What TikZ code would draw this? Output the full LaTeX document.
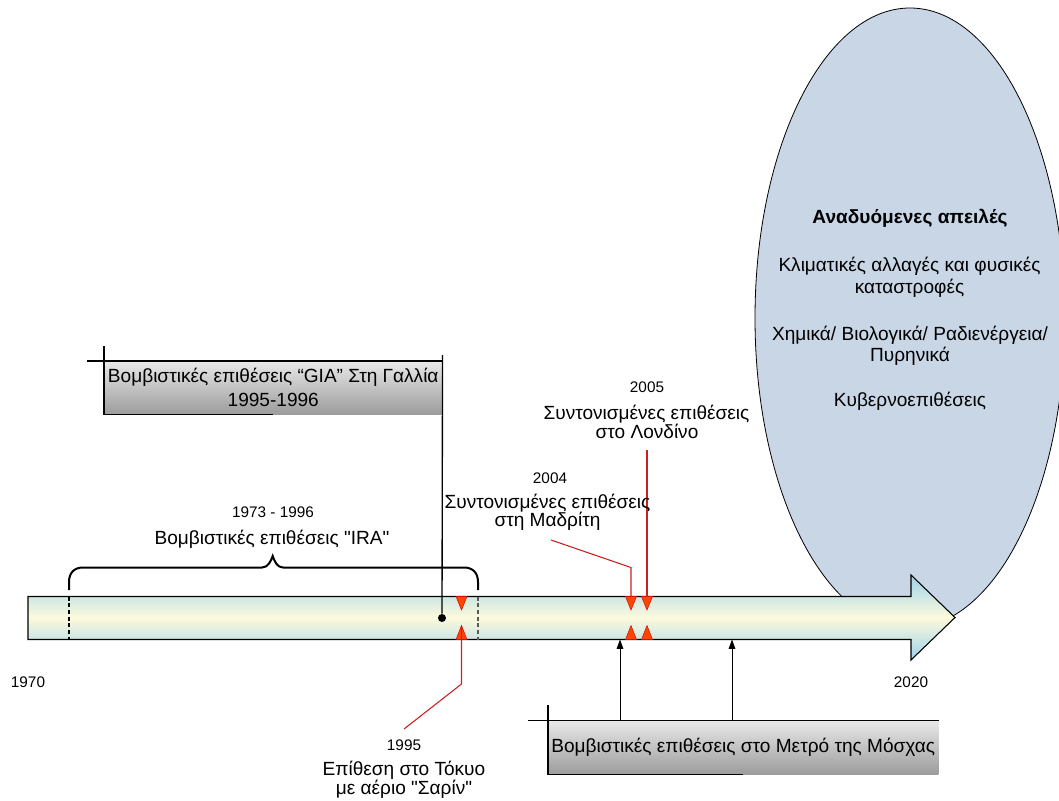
\documentclass[tikz,border=0pt]{standalone}
\usepackage{fontspec}
\setmainfont{Liberation Sans}[Ligatures=TeXOff]
\usetikzlibrary{arrows.meta,calc}

\definecolor{ellfill}{HTML}{C8D6E6}
\definecolor{tlblue}{HTML}{9DD3EC}
\definecolor{tlcream}{HTML}{FDFADC}
\definecolor{evred}{HTML}{FF4500}
\definecolor{evedge}{HTML}{D01010}
\definecolor{leadred}{HTML}{CC2020}
\definecolor{boxtop}{HTML}{E8E8E8}
\definecolor{boxbot}{HTML}{9C9C9C}

\tikzset{
  bigtext/.style={font=\fontsize{14.3}{16}\selectfont, anchor=base, inner sep=0pt},
  smalltext/.style={font=\fontsize{11.5}{13}\selectfont, anchor=base, inner sep=0pt},
  callout/.style={top color=boxtop, bottom color=boxbot, inner sep=0pt, anchor=north west,
    align=center, font=\fontsize{14.3}{18.2}\selectfont},
  frame/.style={black, line width=1pt},
  lead/.style={leadred, line width=0.8pt},
  marker/.style={fill=evred, draw=evedge, line width=0.4pt},
  riser/.style={black, line width=0.6pt, -{Triangle[length=7pt,width=5pt]}},
  span/.style={black, line width=1.5pt},
  dot/.style={circle, fill=black, inner sep=0pt, minimum size=6pt},
}

\begin{document}
\begin{tikzpicture}[x=0.75pt,y=-0.75pt]
\useasboundingbox (0,0) rectangle (1059,800);

% emerging threats
\draw[black, line width=0.6pt, fill=ellfill] (910,318) ellipse [x radius=155, y radius=310];

% timeline arrow 1970-2020
\draw[black, line width=0.8pt, top color=tlblue, bottom color=tlblue, middle color=tlcream]
  (28,596.5) -- (911,596.5) -- (911,575) -- (955,617.5) -- (911,660) -- (911,639.5) -- (28,639.5) -- cycle;

% IRA period limits and brace
\draw[black, line width=0.8pt, dash pattern=on 3pt off 2pt] (69,596.5) -- (69,639.5);
\draw[black!65, line width=1.3pt, dash pattern=on 3pt off 2pt] (478,596.5) -- (478,639.5);
\draw[span] (69,590) -- (69,582) .. controls (69,573) and (74,567.5) .. (83,567.5)
  -- (262,567.5) .. controls (268,567.5) and (271,561) .. (272.7,556)
  .. controls (274.4,561) and (277,567.5) .. (283,567.5)
  -- (464,567.5) .. controls (473,567.5) and (478,573) .. (478,582) -- (478,590);

% event markers
\coordinate (tokyo) at (461.5,625.5);
\coordinate (madrid) at (631,596.5);
\coordinate (london) at (647,596.5);
\foreach \cx in {461.5,631,647} {
  \path[marker] (\cx-5.5,596.5) -- (\cx+5.5,596.5) -- (\cx,610) -- cycle;
  \path[marker] (\cx-5.5,639.5) -- (\cx+5.5,639.5) -- (\cx,625.5) -- cycle;
}

% leaders to the event labels
\coordinate (tokyo-end) at (404,729);
\coordinate (madrid-end) at (551,540);
\coordinate (london-end) at (647,450);
\draw[lead] (tokyo) -- (461.5,684) -- (tokyo-end);
\draw[lead] (madrid) -- (631,567.5) -- (madrid-end);
\draw[lead] (london) -- (london-end);

% GIA callout
\node[callout, minimum width=338*0.75pt, minimum height=53*0.75pt] (gia) at (104,361)
  {Βομβιστικές επιθέσεις “GIA” Στη Γαλλία\\1995-1996};
\draw[frame] ($(gia.north west)+(-17,0)$) -- (gia.north east);
\draw[frame] ($(gia.north west)+(0,-15)$) -- (gia.south west) -- ($(gia.south west)!0.5!(gia.south east)$);
\node[dot] (giadot) at (442,618) {};
\draw[frame] ($(gia.north east)+(0,-6)$) -- (giadot);

% Moscow callout
\node[callout, minimum width=390*0.75pt, minimum height=53.3*0.75pt] (moscow) at (548,720.7)
  {Βομβιστικές επιθέσεις στο Μετρό της Μόσχας};
\draw[frame] ($(moscow.north west)+(-20,0)$) -- (moscow.north east);
\draw[frame] ($(moscow.north west)+(0,-16)$) -- (moscow.south west) -- ($(moscow.south west)!0.5!(moscow.south east)$);
\coordinate (moscow-a) at (620,639.5);
\coordinate (moscow-b) at (732,639.5);
\draw[riser] (moscow.north -| moscow-a) -- (moscow-a);
\draw[riser] (moscow.north -| moscow-b) -- (moscow-b);

% axis years
\node[smalltext] (y1970) at (28,687.3) {1970};
\node[smalltext] (y2020) at (911,687.7) {2020};

% event labels
\node[smalltext] (tok-year) at (404,750.7) {1995};
\node[bigtext] (tok-l1) at (404,775) {Επίθεση στο Τόκυο};
\node[bigtext] (tok-l2) at (404,794) {με αέριο "Σαρίν"};

\node[smalltext] (ira-year) at (273,517.3) {1973 - 1996};
\node[bigtext] (ira-l1) at (272,544) {Βομβιστικές επιθέσεις "IRA"};

\node[smalltext] (lon-year) at (647,392.7) {2005};
\node[bigtext] (lon-l1) at (646.5,419.3) {Συντονισμένες επιθέσεις};
\node[bigtext] (lon-l2) at (647,438.3) {στο Λονδίνο};

\node[smalltext] (mad-year) at (550,483.3) {2004};
\node[bigtext] (mad-l1) at (547.5,508) {Συντονισμένες επιθέσεις};
\node[bigtext] (mad-l2) at (547.5,526.5) {στη Μαδρίτη};

% threats list
\node[bigtext, font=\fontsize{14.3}{16}\selectfont\bfseries] (thr-title) at (910,223.3) {Αναδυόμενες απειλές};
\node[bigtext] (thr-a1) at (909.5,271.7) {Κλιματικές αλλαγές και φυσικές};
\node[bigtext] (thr-a2) at (909.5,293.3) {καταστροφές};
\node[bigtext] (thr-b1) at (910,340) {Χημικά/ Βιολογικά/ Ραδιενέργεια/};
\node[bigtext] (thr-b2) at (910,361.7) {Πυρηνικά};
\node[bigtext] (thr-c) at (910,406.7) {Κυβερνοεπιθέσεις};
\end{tikzpicture}
\end{document}
